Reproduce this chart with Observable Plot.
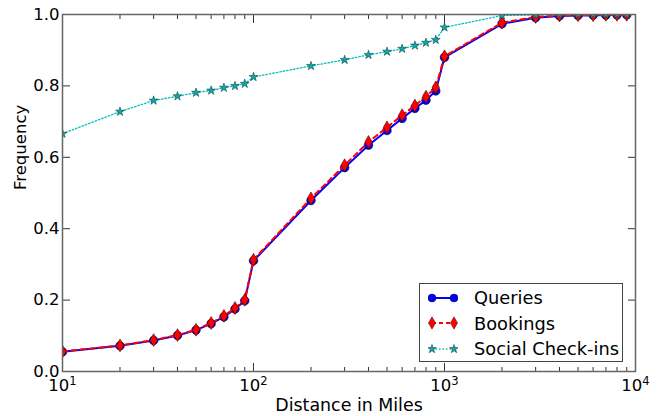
<!DOCTYPE html>
<html><head><meta charset="utf-8">
<script src="https://cdn.jsdelivr.net/npm/d3@7"></script>
<script src="https://cdn.jsdelivr.net/npm/@observablehq/plot@0.6"></script>
<style>
body{margin:0;background:#fff;font-family:"DejaVu Sans",sans-serif;}
#wrap{position:relative;width:658px;height:416px;}
#legend{position:absolute;left:419px;top:283px;width:204px;height:79px;border:1px solid #444;background:#fff;box-sizing:border-box;padding-top:1px;}
.row{display:flex;align-items:center;height:25.5px;}
.row svg{margin-left:8px;margin-right:16px;}
.row span{font-size:17.8px;color:#000;font-family:"DejaVu Sans",sans-serif;}
</style></head><body><div id="wrap"></div>
<script>
const distances = [10,20,30,40,50,60,70,80,90,100,200,300,400,500,600,700,800,900,1000,2000,3000,4000,5000,6000,7000,8000,9000];
const queries  = [0.055,0.072,0.087,0.101,0.116,0.134,0.153,0.175,0.198,0.310,0.479,0.571,0.634,0.675,0.709,0.737,0.760,0.786,0.880,0.974,0.991,0.996,0.997,0.998,0.998,0.999,0.999];
const bookings = [0.056,0.073,0.088,0.102,0.117,0.136,0.156,0.178,0.201,0.313,0.485,0.578,0.643,0.684,0.718,0.745,0.770,0.796,0.883,0.977,0.993,0.997,0.998,0.998,0.999,0.999,0.999];
const checkins = [0.666,0.728,0.759,0.771,0.781,0.787,0.795,0.800,0.806,0.825,0.856,0.873,0.887,0.896,0.904,0.913,0.921,0.929,0.964,0.997,0.999,1.0,1.0,1.0,1.0,1.0,1.0];
const seriesNames = ["Queries","Bookings","Social Check-ins"];
const xMajorTicks = [10,100,1000,10000];
const xMinorTicks = [20,30,40,50,60,70,80,90,200,300,400,500,600,700,800,900,2000,3000,4000,5000,6000,7000,8000,9000];
const yTicks = [0,0.2,0.4,0.6,0.8,1.0];
const xLabel = "Distance in Miles";
const yLabel = "Frequency";

const fmtX = d => "10^" + Math.round(Math.log10(d));

const qData = distances.map((d,i)=>({x:d,y:queries[i]}));
const bData = distances.map((d,i)=>({x:d,y:bookings[i]}));
const cData = distances.map((d,i)=>({x:d,y:checkins[i]}));

const chart = Plot.plot({
  width:658, height:416,
  marginLeft:62, marginRight:23, marginTop:14, marginBottom:45,
  style:{fontFamily:"'DejaVu Sans', sans-serif", fontSize:"16.5px", color:"#000", background:"#fff"},
  x:{type:"log", domain:[10,10000]},
  y:{domain:[0,1]},
  marks:[
    Plot.axisX(xMajorTicks,{anchor:"bottom", tickSize:-8, tickPadding:16, tickFormat:fmtX, label:null, stroke:"#333", fontSize:16.5}),
    Plot.axisX(xMinorTicks,{anchor:"bottom", tickSize:-4, tickFormat:()=>"", label:null, stroke:"#333"}),
    Plot.axisX(xMajorTicks,{anchor:"top", tickSize:-8, tickFormat:()=>"", label:null, stroke:"#333"}),
    Plot.axisX(xMinorTicks,{anchor:"top", tickSize:-4, tickFormat:()=>"", label:null, stroke:"#333"}),
    Plot.axisY(yTicks,{anchor:"left", tickSize:-8, tickPadding:11, tickFormat:d3.format(".1f"), label:null, stroke:"#333", fontSize:16.5}),
    Plot.axisY(yTicks,{anchor:"right", tickSize:-8, tickFormat:()=>"", label:null, stroke:"#333"}),
    Plot.text([xLabel],{text:d=>d, frameAnchor:"bottom", dy:39, fontSize:17.4}),
    Plot.text([yLabel],{text:d=>d, frameAnchor:"left", dx:-42, dy:-3, rotate:-90, fontSize:16.5}),
    Plot.line(qData,{x:"x", y:"y", stroke:"#0000ff", strokeWidth:2, clip:true}),
    Plot.dot(qData,{x:"x", y:"y", r:4.3, fill:"#0000ff", stroke:"#000033", strokeWidth:0.6, clip:true}),
    Plot.line(bData,{x:"x", y:"y", stroke:"#ff0000", strokeWidth:2, strokeDasharray:"5,4", clip:true}),
    Plot.dot(bData,{x:"x", y:"y", r:3.9, symbol:"diamond", fill:"#ff0000", stroke:"#330000", strokeWidth:0.5, clip:true}),
    Plot.line(cData,{x:"x", y:"y", stroke:"#00bfbf", strokeWidth:1.3, strokeDasharray:"1.5,2", clip:true}),
    Plot.dot(cData,{x:"x", y:"y", r:2.8, symbol:"star", fill:"#10a8a8", stroke:"#003333", strokeWidth:0.5, clip:true}),
    Plot.frame({stroke:"#666", strokeWidth:1.5})
  ]
});
const wrap = document.getElementById("wrap");
wrap.appendChild(chart);

// render x tick labels as 10 with a superscript exponent
d3.select(chart).selectAll('g[aria-label="x-axis tick label"] text').each(function() {
  const t = d3.select(this);
  const s = t.text();
  if (!s.includes("^")) return;
  const [base, exp] = s.split("^");
  t.text(null);
  t.append("tspan").text(base);
  t.append("tspan").attr("dy", "-0.5em").attr("font-size", "11.5px").text(exp);
});

const legendSpecs = [
  {name:seriesNames[0], color:"#0000ff", dash:null, sym:d3.symbolCircle, size:50, w:2, fill:"#0000ff"},
  {name:seriesNames[1], color:"#ff0000", dash:"4,3", sym:d3.symbolDiamond, size:45, w:2, fill:"#ff0000"},
  {name:seriesNames[2], color:"#00bfbf", dash:"1.5,2", sym:d3.symbolStar, size:24, w:1.3, fill:"#10a8a8"}
];
const legend = document.createElement("div");
legend.id = "legend";
for (const s of legendSpecs) {
  const row = document.createElement("div");
  row.className = "row";
  const svg = d3.create("svg").attr("width",30).attr("height",16);
  svg.append("line").attr("x1",4).attr("x2",26).attr("y1",8).attr("y2",8)
     .attr("stroke",s.color).attr("stroke-width",s.w).attr("stroke-dasharray",s.dash);
  for (const cx of [4,26]) {
    svg.append("path").attr("d",d3.symbol(s.sym,s.size)()).attr("transform",`translate(${cx},8)`)
      .attr("fill",s.fill).attr("stroke","#000").attr("stroke-width",0.4);
  }
  row.appendChild(svg.node());
  const span = document.createElement("span");
  span.textContent = s.name;
  row.appendChild(span);
  legend.appendChild(row);
}
wrap.appendChild(legend);
</script>
</body></html>
